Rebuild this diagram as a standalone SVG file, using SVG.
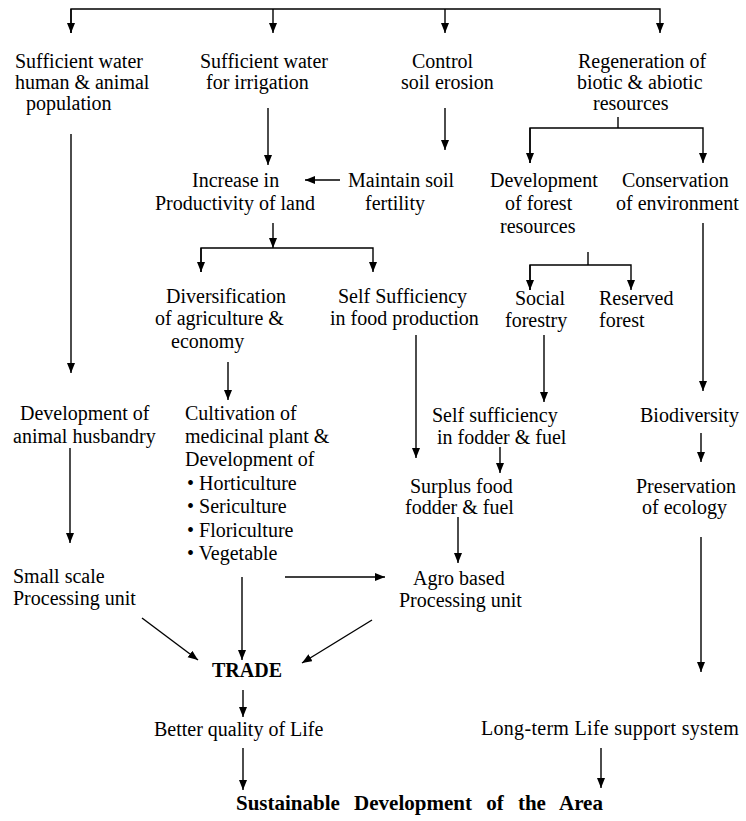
<svg xmlns="http://www.w3.org/2000/svg" width="746" height="821" viewBox="0 0 746 821">
<defs>
<marker id="ah" markerUnits="userSpaceOnUse" markerWidth="10" markerHeight="10" refX="10" refY="4" orient="auto">
<path d="M0,0 L10,4 L0,8 z" fill="#000"/>
</marker>
<style>
text{font-family:"Liberation Serif","Times New Roman",serif;font-size:20px;fill:#000}
.b{font-weight:bold}
.c line,.c polyline{stroke:#000;stroke-width:1.4;fill:none}
.a{marker-end:url(#ah)}
</style>
</defs>
<rect width="746" height="821" fill="#fff"/>
<g class="c" id="connectors">
<polyline points="71,33 71,9 660,9 660,33" class="a"/>
<polyline points="71,9 71,33" class="a"/>
<line x1="273" y1="9" x2="273" y2="33" class="a"/>
<line x1="445" y1="9" x2="445" y2="33" class="a"/>
<line x1="71" y1="134" x2="71" y2="373" class="a"/>
<line x1="268" y1="108" x2="268" y2="165" class="a"/>
<line x1="445" y1="108" x2="445" y2="150" class="a"/>
<line x1="340" y1="180" x2="305" y2="180" class="a"/>
<line x1="618" y1="117" x2="618" y2="128"/>
<polyline points="530,163 530,128 703,128 703,163" class="a"/>
<line x1="530" y1="128" x2="530" y2="163" class="a"/>
<line x1="273" y1="223" x2="273" y2="248" class="a"/>
<polyline points="201,272 201,248 373,248 373,272" class="a"/>
<line x1="201" y1="248" x2="201" y2="272" class="a"/>
<line x1="588" y1="252" x2="588" y2="265"/>
<polyline points="530,290 530,265 631,265 631,290" class="a"/>
<line x1="530" y1="265" x2="530" y2="290" class="a"/>
<line x1="703" y1="223" x2="703" y2="391" class="a"/>
<line x1="228" y1="362" x2="228" y2="400" class="a"/>
<line x1="416" y1="335" x2="416" y2="458" class="a"/>
<line x1="544" y1="335" x2="544" y2="402" class="a"/>
<line x1="500" y1="447" x2="500" y2="473" class="a"/>
<line x1="458" y1="517" x2="458" y2="563" class="a"/>
<line x1="701" y1="433" x2="701" y2="462" class="a"/>
<line x1="701" y1="537" x2="701" y2="672" class="a"/>
<line x1="70" y1="448" x2="70" y2="543" class="a"/>
<line x1="242" y1="577" x2="242" y2="660" class="a"/>
<line x1="285" y1="577" x2="385" y2="577" class="a"/>
<line x1="142" y1="618" x2="198" y2="660" class="a"/>
<line x1="372" y1="620" x2="302" y2="663" class="a"/>
<line x1="243" y1="690" x2="243" y2="717" class="a"/>
<line x1="243" y1="748" x2="243" y2="790" class="a"/>
<line x1="601" y1="748" x2="601" y2="788" class="a"/>
</g>
<g id="water-population"><text x="15" y="68">Sufficient water</text><text x="15" y="89">human &amp; animal</text><text x="26" y="110">population</text></g>
<g id="water-irrigation"><text x="200" y="68">Sufficient water</text><text x="206" y="89">for irrigation</text></g>
<g id="soil-erosion"><text x="412" y="68">Control</text><text x="401" y="89">soil erosion</text></g>
<g id="regeneration"><text x="578" y="68">Regeneration  of</text><text x="577" y="89">biotic &amp; abiotic</text><text x="593" y="110">resources</text></g>
<g id="productivity"><text x="192" y="187">Increase in</text><text x="155" y="210">Productivity of land</text></g>
<g id="soil-fertility"><text x="348" y="187">Maintain soil</text><text x="365" y="210">fertility</text></g>
<g id="forest-resources"><text x="490" y="187">Development</text><text x="505" y="210">of  forest</text><text x="500" y="233">resources</text></g>
<g id="conservation"><text x="622" y="187">Conservation</text><text x="616" y="210">of environment</text></g>
<g id="diversification"><text x="166" y="303">Diversification</text><text x="155" y="325">of agriculture &amp;</text><text x="171" y="348">economy</text></g>
<g id="food-production"><text x="338" y="303">Self Sufficiency</text><text x="330" y="325">in food production</text></g>
<g id="social-forestry"><text x="515" y="305">Social</text><text x="505" y="327">forestry</text></g>
<g id="reserved-forest"><text x="599" y="305">Reserved</text><text x="599" y="327">forest</text></g>
<g id="animal-husbandry"><text x="20" y="420">Development of</text><text x="13" y="443">animal husbandry</text></g>
<g id="cultivation"><text x="185" y="420">Cultivation  of</text><text x="185" y="443">medicinal plant &amp;</text><text x="185" y="466">Development of</text><text x="187" y="490">• Horticulture</text><text x="187" y="513">•  Sericulture</text><text x="187" y="537">• Floriculture</text><text x="187" y="560">• Vegetable</text></g>
<g id="fodder-fuel"><text x="432" y="422">Self sufficiency</text><text x="437" y="444">in fodder &amp; fuel</text></g>
<g id="biodiversity"><text x="640" y="422">Biodiversity</text></g>
<g id="surplus"><text x="410" y="493">Surplus food</text><text x="405" y="514">fodder &amp; fuel</text></g>
<g id="ecology"><text x="636" y="493">Preservation</text><text x="642" y="514">of ecology</text></g>
<g id="small-scale"><text x="13" y="583">Small scale</text><text x="13" y="605">Processing unit</text></g>
<g id="agro-based"><text x="413" y="585">Agro based</text><text x="399" y="607">Processing unit</text></g>
<g id="trade"><text x="212" y="677" class="b">TRADE</text></g>
<g id="quality-life"><text x="154" y="736">Better quality of Life</text></g>
<g id="life-support"><text x="481" y="735" style="letter-spacing:0.3px">Long-term Life support system</text></g>
<g id="sustainable"><text x="236" y="810" class="b" style="font-size:21px;word-spacing:9px">Sustainable Development of the Area</text></g>
</svg>
